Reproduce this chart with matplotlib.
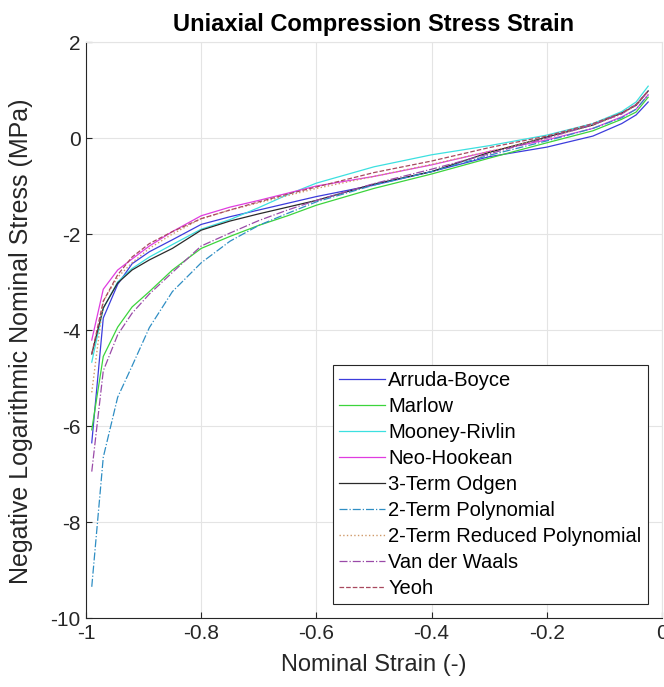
import matplotlib
matplotlib.use("Agg")
import matplotlib.pyplot as plt

plt.rcParams['font.family'] = ['Liberation Sans', 'DejaVu Sans']

# nominal strain sample points
strain = [-0.99, -0.97, -0.945, -0.92, -0.89, -0.85, -0.8, -0.75, -0.7, -0.65,
          -0.6, -0.5, -0.4, -0.3, -0.2, -0.12, -0.07, -0.045, -0.024]

arruda = [-6.35, -3.75, -3.05, -2.62, -2.37, -2.12, -1.8, -1.64, -1.5, -1.36,
          -1.22, -0.98, -0.7, -0.39, -0.19, 0.04, 0.3, 0.48, 0.75]
marlow = [-6.08, -4.55, -3.94, -3.52, -3.2, -2.75, -2.3, -2.05, -1.82, -1.62,
          -1.4, -1.05, -0.75, -0.42, -0.1, 0.15, 0.39, 0.54, 0.85]
mooney = [-4.67, -3.55, -3.0, -2.72, -2.48, -2.22, -1.9, -1.7, -1.45, -1.18,
          -0.94, -0.6, -0.35, -0.16, 0.06, 0.3, 0.55, 0.75, 1.08]
neo = [-4.21, -3.15, -2.75, -2.52, -2.25, -1.95, -1.62, -1.44, -1.3, -1.15,
       -1.0, -0.8, -0.56, -0.28, -0.04, 0.2, 0.44, 0.6, 0.9]
odgen = [-4.5, -3.54, -3.02, -2.75, -2.54, -2.3, -1.92, -1.73, -1.58, -1.44,
         -1.3, -0.96, -0.7, -0.3, 0.02, 0.27, 0.52, 0.68, 0.98]
poly2 = [-9.35, -6.65, -5.4, -4.75, -3.95, -3.2, -2.6, -2.15, -1.82, -1.57,
         -1.33, -0.98, -0.7, -0.36, -0.06, 0.2, 0.42, 0.6, 0.9]
redpoly2 = [-5.3, -3.4, -2.9, -2.6, -2.3, -2.0, -1.68, -1.5, -1.35, -1.2,
            -1.05, -0.8, -0.55, -0.28, 0.0, 0.27, 0.5, 0.68, 0.97]
vdw = [-6.95, -4.85, -4.1, -3.65, -3.25, -2.8, -2.25, -1.98, -1.72, -1.5,
       -1.3, -0.95, -0.65, -0.33, 0.0, 0.28, 0.5, 0.7, 0.98]
yeoh = [-4.5, -3.4, -2.85, -2.48, -2.2, -1.95, -1.68, -1.5, -1.33, -1.17,
        -1.02, -0.72, -0.48, -0.2, 0.04, 0.3, 0.52, 0.7, 0.98]

fig = plt.figure(figsize=(6.64, 6.87), dpi=100)
ax = fig.add_axes([86/664, 69/687, 576/664, 576/687])

ax.plot(strain, arruda, color='#3c3cdc', lw=0.9, label='Arruda-Boyce')
ax.plot(strain, marlow, color='#3cd43c', lw=0.9, label='Marlow')
ax.plot(strain, mooney, color='#3ce0e0', lw=0.9, label='Mooney-Rivlin')
ax.plot(strain, neo, color='#e03ce0', lw=0.9, label='Neo-Hookean')
ax.plot(strain, odgen, color='#2a2a2a', lw=0.9, label='3-Term Odgen')
ax.plot(strain, poly2, color='#2f8ec4', lw=0.9, ls='-.', label='2-Term Polynomial')
ax.plot(strain, redpoly2, color='#d09a6a', lw=1.0, ls=':', label='2-Term Reduced Polynomial')
ax.plot(strain, vdw, color='#9a4aa8', lw=0.9, ls='-.', label='Van der Waals')
ax.plot(strain, yeoh, color='#a8485e', lw=0.9, ls='--', label='Yeoh')

ax.set_xlim(-1, 0)
ax.set_ylim(-10, 2)
ax.set_xticks([-1, -0.8, -0.6, -0.4, -0.2, 0])
ax.set_xticklabels(['-1', '-0.8', '-0.6', '-0.4', '-0.2', '0'])
ax.set_yticks([-10, -8, -6, -4, -2, 0, 2])
ax.set_yticklabels(['-10', '-8', '-6', '-4', '-2', '0', '2'])
ax.tick_params(direction='in', length=4, width=0.8, labelsize=15,
               colors='#262626', pad=4)
ax.grid(True, color='#e4e4e4', lw=0.8)
ax.set_axisbelow(True)
for s in ['left', 'bottom']:
    ax.spines[s].set_color('#262626')
    ax.spines[s].set_linewidth(0.8)
for s in ['top', 'right']:
    ax.spines[s].set_color('#e4e4e4')
    ax.spines[s].set_linewidth(0.8)

ax.set_xlabel('Nominal Strain (-)', fontsize=17, color='#262626', labelpad=8)
ax.set_ylabel('Negative Logarithmic Nominal Stress (MPa)', fontsize=18,
              color='#262626')
ax.yaxis.set_label_coords(-0.092, 0.481)
ax.set_title('Uniaxial Compression Stress Strain', fontsize=17,
             fontweight='bold', pad=8)

leg = ax.legend(loc='lower right', bbox_to_anchor=(0.975, 0.024),
                borderaxespad=0, fontsize=14.5, fancybox=False, framealpha=1,
                edgecolor='#262626', handlelength=2.3, handletextpad=0.15,
                labelspacing=0.35, borderpad=0.3)
leg.get_frame().set_linewidth(0.8)

fig.savefig('out.png', dpi=100)
